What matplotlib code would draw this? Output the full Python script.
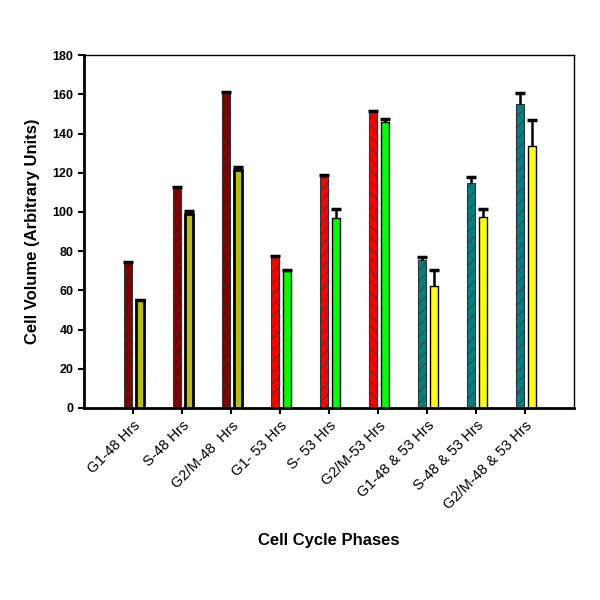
import matplotlib
matplotlib.use("Agg")
import matplotlib.pyplot as plt
import numpy as np

plt.rcParams['font.family'] = ['Liberation Sans', 'DejaVu Sans']
plt.rcParams['hatch.linewidth'] = 0.5

phases = ["G1-48 Hrs", "S-48 Hrs", "G2/M-48  Hrs", "G1- 53 Hrs", "S- 53 Hrs",
          "G2/M-53 Hrs", "G1-48 & 53 Hrs", "S-48 & 53 Hrs", "G2/M-48 & 53 Hrs"]

# first bar of each pair
vol_a = [74.4, 112.6, 160.9, 77.0, 118.0, 151.0, 75.4, 114.8, 155.3]
err_a = [0.3, 0.4, 0.4, 0.3, 1.0, 0.5, 1.7, 3.1, 5.6]
# second bar of each pair
vol_b = [55.0, 99.0, 121.6, 70.0, 96.7, 145.7, 62.2, 97.5, 133.7]
err_b = [0.3, 1.5, 1.2, 0.3, 4.7, 1.7, 8.1, 3.9, 13.2]

col_a = ["#800000"] * 3 + ["#ff0000"] * 3 + ["#008080"] * 3
hatch_a = ["///"] * 5 + ["\\\\\\"] + ["///"] * 3
col_b = ["#b8c000"] * 3 + ["#00ff00"] * 3 + ["#ffff00"] * 3
edge_b = [2.0] * 3 + [1.0] * 6

fig = plt.figure(figsize=(6, 6), dpi=100)
ax = fig.add_axes([0.14, 0.32, 0.817, 0.588])

x = np.arange(1, len(phases) + 1)
w = 0.16
off_a, off_b = -0.1, 0.14
for i in range(len(phases)):
    ax.bar(x[i] + off_a, vol_a[i], w, color=col_a[i], edgecolor="#333333",
           linewidth=0.8, hatch=hatch_a[i], zorder=2)
    ax.bar(x[i] + off_b, vol_b[i], w, color=col_b[i], edgecolor="black",
           linewidth=edge_b[i], zorder=2)

# upper error bars only
vol_a, err_a, vol_b, err_b = map(np.array, (vol_a, err_a, vol_b, err_b))
cap = 0.1
for off, v, e in ((off_a, vol_a, err_a), (off_b, vol_b, err_b)):
    ax.vlines(x + off, v, v + e, color="black", linewidth=1.8, zorder=3)
    ax.hlines(v + e, x + off - cap, x + off + cap, color="black", linewidth=2.5, zorder=3)

ax.set_xlim(0, 10)
ax.set_ylim(0, 180)
ax.set_yticks(np.arange(0, 181, 20))
ax.set_xticks(x)
ax.set_xticklabels(phases, rotation=45, ha="right", rotation_mode="anchor", fontsize=10.5)
for lbl in ax.get_yticklabels():
    lbl.set_fontweight("bold")
    lbl.set_fontsize(9)

ax.spines["left"].set_linewidth(2)
ax.spines["bottom"].set_linewidth(2)
ax.spines["top"].set_linewidth(1)
ax.spines["right"].set_linewidth(1)
ax.tick_params(axis="both", direction="out", length=4, width=1.5)

ax.set_xlabel("Cell Cycle Phases", fontweight="bold", fontsize=12, labelpad=15)
ax.set_ylabel("Cell Volume (Arbitrary Units)", fontweight="bold", fontsize=12, labelpad=9)

fig.savefig("out.png", dpi=100)
